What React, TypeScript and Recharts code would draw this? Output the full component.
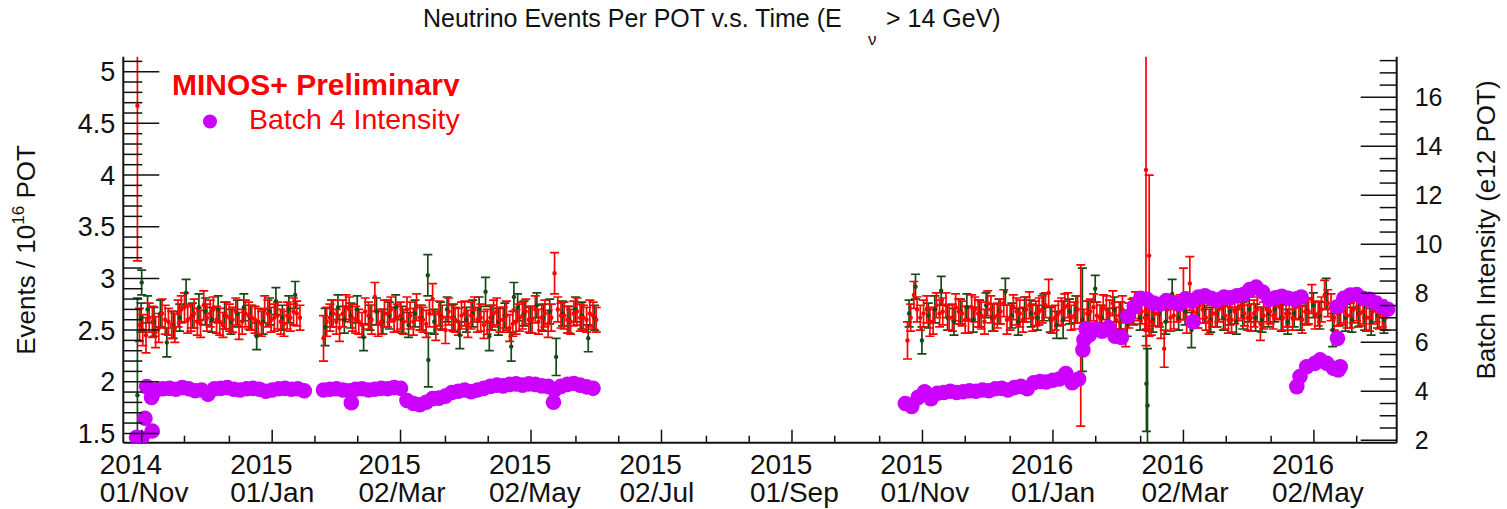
import React from "react"
import { ComposedChart, Scatter, XAxis, YAxis, ErrorBar } from "recharts"

const W = 1507
const H = 509
const FONT = "'Liberation Sans', Arial, Helvetica, sans-serif"
const RED = "#ff0000"
const GREEN = "#174a17"
const VIOLET = "#cc00ff"
const INK = "#111111"

// x axis: days since 2014-11-01
const X_MAJOR = [0, 61, 121, 182, 243, 304, 365, 426, 487, 548]
const X_MINOR = [20, 41, 81, 101, 142, 162, 203, 223, 264, 284, 324, 345, 385, 406, 446, 467, 507, 528, 568]
const X_YEAR = ["2014", "2015", "2015", "2015", "2015", "2015", "2015", "2016", "2016", "2016"]
const X_DATE = ["01/Nov", "01/Jan", "02/Mar", "02/May", "02/Jul", "01/Sep", "01/Nov", "01/Jan", "02/Mar", "02/May"]

const LEFT_MAJOR = [1.5, 2, 2.5, 3, 3.5, 4, 4.5, 5]
const LEFT_MINOR = [1.6, 1.7, 1.8, 1.9, 2.1, 2.2, 2.3, 2.4, 2.6, 2.7, 2.8, 2.9, 3.1, 3.2, 3.3, 3.4, 3.6, 3.7, 3.8, 3.9, 4.1, 4.2, 4.3, 4.4, 4.6, 4.7, 4.8, 4.9, 5.1]
const RIGHT_MAJOR = [2, 4, 6, 8, 10, 12, 14, 16]
const RIGHT_MINOR = [2.5, 3, 3.5, 4.5, 5, 5.5, 6.5, 7, 7.5, 8.5, 9, 9.5, 10.5, 11, 11.5, 12.5, 13, 13.5, 14.5, 15, 15.5, 16.5, 17, 17.5]

// events per POT, sampled every 3 days per period (red runs, two interleaved sets)
const R1_START = -1
const R1_VAL = [2.55, 2.45, 2.58, 2.52, 2.60, 2.55, 2.66, 2.72, 2.62, 2.58, 2.74, 2.66, 2.60, 2.55, 2.62, 2.68, 2.58, 2.64, 2.60, 2.56, 2.66, 2.62, 2.58, 2.64, 2.68, 2.62]
const R1_ERR = [0.16, 0.17, 0.15, 0.14, 0.14, 0.13, 0.13, 0.14, 0.13, 0.13, 0.14, 0.13, 0.13, 0.12, 0.13, 0.13, 0.12, 0.13, 0.13, 0.12, 0.13, 0.13, 0.12, 0.13, 0.13, 0.12]
const R1B_START = 0.5
const R1B_VAL = [2.50, 2.62, 2.48, 2.66, 2.58, 2.52, 2.70, 2.60, 2.66, 2.56, 2.62, 2.70, 2.58, 2.64, 2.60, 2.54, 2.66, 2.62, 2.58, 2.70, 2.60, 2.64, 2.56, 2.62, 2.66]
const R1B_ERR = [0.15, 0.14, 0.15, 0.14, 0.13, 0.14, 0.13, 0.13, 0.14, 0.13, 0.13, 0.12, 0.13, 0.13, 0.12, 0.13, 0.13, 0.12, 0.13, 0.13, 0.12, 0.13, 0.12, 0.13, 0.12]
const R2_START = 85
const R2_VAL = [2.42, 2.62, 2.58, 2.66, 2.70, 2.60, 2.55, 2.64, 2.82, 2.58, 2.66, 2.60, 2.64, 2.70, 2.58, 2.62, 2.56, 2.80, 2.66, 2.50, 2.62, 2.58, 2.66, 2.64, 2.60, 2.55, 2.62, 2.68, 2.60, 2.52, 2.58, 2.64, 2.60, 2.70, 2.62, 2.56, 3.05, 2.64, 2.60, 2.66, 2.62, 2.60, 2.64]
const R2_ERR = [0.22, 0.13, 0.12, 0.13, 0.12, 0.13, 0.12, 0.13, 0.14, 0.12, 0.13, 0.12, 0.13, 0.12, 0.13, 0.12, 0.13, 0.15, 0.12, 0.13, 0.12, 0.13, 0.12, 0.13, 0.12, 0.13, 0.12, 0.13, 0.12, 0.13, 0.12, 0.13, 0.12, 0.13, 0.12, 0.13, 0.20, 0.12, 0.13, 0.12, 0.13, 0.12, 0.13]
const R2B_START = 86.5
const R2B_VAL = [2.58, 2.66, 2.52, 2.72, 2.62, 2.58, 2.68, 2.60, 2.56, 2.66, 2.70, 2.62, 2.58, 2.64, 2.72, 2.60, 2.66, 2.54, 2.62, 2.68, 2.60, 2.64, 2.56, 2.70, 2.62, 2.58, 2.66, 2.60, 2.64, 2.56, 2.62, 2.68, 2.60, 2.58, 2.66, 2.62, 2.70, 2.64, 2.58, 2.68, 2.62, 2.66, 2.60]
const R2B_ERR = [0.14, 0.13, 0.13, 0.12, 0.13, 0.12, 0.13, 0.14, 0.12, 0.13, 0.12, 0.13, 0.12, 0.13, 0.13, 0.12, 0.13, 0.14, 0.12, 0.13, 0.12, 0.13, 0.13, 0.12, 0.13, 0.12, 0.13, 0.12, 0.14, 0.12, 0.13, 0.12, 0.13, 0.12, 0.13, 0.13, 0.12, 0.13, 0.12, 0.13, 0.12, 0.13, 0.12]
const R3_START = 358
const R3_VAL = [2.40, 2.84, 2.62, 2.70, 2.58, 2.66, 2.74, 2.62, 2.68, 2.60, 2.72, 2.66, 2.58, 2.70, 2.64, 2.76, 2.62, 2.68, 2.60, 2.74, 2.66, 2.70, 2.86, 2.62, 2.68, 2.74, 2.64, 2.35, 2.66, 2.72, 2.62, 2.70, 2.76, 2.64, 2.48, 2.68, 2.72, 2.62, 2.58, 2.66, 2.32, 2.62, 2.70, 2.85, 2.95, 2.64, 2.70, 2.58, 2.66, 2.72, 2.60, 2.68, 2.74, 2.62, 2.66, 2.56, 2.70, 2.64, 2.72, 2.66, 2.62, 2.74, 2.68, 2.80, 2.66, 2.84, 2.72, 2.66, 2.70, 2.64, 2.72, 2.68, 2.62, 2.70, 2.66]
const R3_ERR = [0.18, 0.13, 0.12, 0.13, 0.12, 0.13, 0.12, 0.13, 0.12, 0.13, 0.12, 0.13, 0.12, 0.13, 0.12, 0.13, 0.12, 0.13, 0.12, 0.13, 0.12, 0.13, 0.13, 0.12, 0.13, 0.12, 0.13, 0.78, 0.12, 0.13, 0.12, 0.13, 0.12, 0.13, 0.14, 0.12, 0.13, 0.12, 0.13, 0.12, 0.18, 0.13, 0.12, 0.25, 0.26, 0.12, 0.13, 0.12, 0.13, 0.12, 0.13, 0.12, 0.13, 0.12, 0.13, 0.16, 0.12, 0.13, 0.12, 0.13, 0.12, 0.13, 0.12, 0.14, 0.12, 0.14, 0.13, 0.12, 0.13, 0.12, 0.13, 0.12, 0.13, 0.12, 0.13]
const R3B_START = 359.5
const R3B_VAL = [2.62, 2.70, 2.66, 2.58, 2.74, 2.68, 2.62, 2.72, 2.66, 2.60, 2.70, 2.64, 2.76, 2.62, 2.68, 2.60, 2.72, 2.66, 2.70, 2.62, 2.68, 2.74, 2.60, 2.66, 2.72, 2.62, 2.70, 2.56, 2.68, 2.64, 2.72, 2.66, 2.60, 2.70, 2.64, 2.74, 2.68, 2.62, 2.66, 2.56, 2.70, 2.64, 2.72, 2.60, 2.68, 2.74, 2.62, 2.66, 2.70, 2.64, 2.60, 2.72, 2.66, 2.62, 2.70, 2.64, 2.68, 2.74, 2.62, 2.66, 2.72, 2.60, 2.68, 2.64, 2.70, 2.76, 2.62, 2.68, 2.64, 2.70, 2.66, 2.62, 2.68, 2.64, 2.62]
const R3B_ERR = [0.13, 0.12, 0.13, 0.14, 0.12, 0.13, 0.12, 0.13, 0.12, 0.13, 0.12, 0.13, 0.12, 0.13, 0.12, 0.14, 0.12, 0.13, 0.12, 0.13, 0.13, 0.12, 0.13, 0.12, 0.13, 0.12, 0.13, 0.14, 0.12, 0.13, 0.12, 0.13, 0.12, 0.13, 0.12, 0.13, 0.12, 0.13, 0.12, 0.14, 0.12, 0.13, 0.12, 0.13, 0.12, 0.13, 0.12, 0.13, 0.12, 0.13, 0.12, 0.13, 0.12, 0.13, 0.12, 0.13, 0.12, 0.13, 0.12, 0.13, 0.12, 0.13, 0.12, 0.13, 0.12, 0.13, 0.12, 0.13, 0.12, 0.13, 0.12, 0.13, 0.12, 0.13, 0.12]
// [day, value, error]
const RED_EXTRA = [[-2, 4.67, 1.5], [469.5, 4.05, 1.7], [471, 3.22, 0.78]]

// green runs
const G1_START = -0.25
const G1_VAL = [2.62, 2.70, 2.58, 2.66, 2.38, 2.55, 2.62, 2.86, 2.64, 2.72, 2.68, 2.60, 2.70, 2.64, 2.58, 2.66, 2.72, 2.62, 2.44, 2.58, 2.68, 2.78, 2.62, 2.70, 2.84]
const G1_ERR = [0.14, 0.13, 0.14, 0.13, 0.14, 0.13, 0.13, 0.13, 0.12, 0.13, 0.13, 0.12, 0.13, 0.13, 0.12, 0.13, 0.13, 0.12, 0.13, 0.12, 0.13, 0.13, 0.12, 0.13, 0.13]
const G2_START = 85.75
const G2_VAL = [2.53, 2.66, 2.72, 2.60, 2.64, 2.70, 2.43, 2.62, 2.68, 2.58, 2.64, 2.72, 2.60, 2.55, 2.66, 2.62, 3.03, 2.58, 2.64, 2.70, 2.62, 2.45, 2.60, 2.66, 2.70, 2.87, 2.62, 2.58, 2.64, 2.34, 2.72, 2.66, 2.60, 2.74, 2.62, 2.68, 2.24, 2.66, 2.60, 2.70, 2.64, 2.42, 2.62]
const G2_ERR = [0.18, 0.13, 0.12, 0.13, 0.12, 0.13, 0.13, 0.12, 0.13, 0.12, 0.13, 0.12, 0.13, 0.12, 0.13, 0.12, 0.20, 0.12, 0.13, 0.12, 0.13, 0.13, 0.12, 0.13, 0.12, 0.14, 0.12, 0.13, 0.12, 0.14, 0.13, 0.12, 0.13, 0.12, 0.13, 0.12, 0.18, 0.12, 0.13, 0.12, 0.13, 0.13, 0.12]
const G3_START = 358.75
const G3_VAL = [2.66, 2.92, 2.40, 2.64, 2.70, 2.88, 2.62, 2.58, 2.68, 2.72, 2.60, 2.66, 2.74, 2.62, 2.68, 2.87, 2.64, 2.58, 2.70, 2.66, 2.62, 2.72, 2.60, 2.55, 2.60, 2.68, 2.70, 2.60, 2.66, 2.90, 2.62, 2.58, 2.70, 2.64, 2.56, 2.68, 2.62, 2.64, 2.60, 2.66, 2.58, 2.85, 2.62, 2.68, 2.50, 2.64, 2.70, 2.60, 2.66, 2.62, 2.68, 2.58, 2.64, 2.70, 2.62, 2.60, 2.66, 2.70, 2.62, 2.58, 2.66, 2.62, 2.68, 2.74, 2.64, 2.85, 2.50, 2.66, 2.62, 2.60, 2.66, 2.62, 2.58, 2.64, 2.60]
const G3_ERR = [0.13, 0.12, 0.13, 0.12, 0.13, 0.14, 0.12, 0.13, 0.12, 0.13, 0.12, 0.13, 0.12, 0.13, 0.12, 0.13, 0.12, 0.13, 0.12, 0.13, 0.12, 0.13, 0.12, 0.13, 0.18, 0.12, 0.13, 0.50, 0.12, 0.13, 0.12, 0.13, 0.12, 0.13, 0.12, 0.13, 0.12, 0.13, 0.12, 0.13, 0.12, 0.14, 0.12, 0.13, 0.17, 0.12, 0.13, 0.12, 0.13, 0.12, 0.13, 0.12, 0.13, 0.12, 0.13, 0.12, 0.13, 0.12, 0.13, 0.12, 0.13, 0.12, 0.13, 0.12, 0.13, 0.15, 0.16, 0.12, 0.13, 0.12, 0.13, 0.12, 0.13, 0.12, 0.13]
const GREEN_EXTRA = [[-2, 1.87, 0.94], [0, 2.96, 0.12], [134, 2.21, 0.26], [162.5, 2.44, 0.14], [174, 2.82, 0.14], [469.7, 1.98, 0.46], [470.2, 1.77, 0.55]]

// batch 4 intensity (e12 POT), right axis
const M1_START = 7
const M1_VAL = [4.05, 4.1, 4.12, 4.08, 4.15, 4.1, 4.02, 4.05, 3.88, 4.1, 4.12, 4.15, 4.08, 4.05, 4.1, 4.12, 4.08, 4.0, 4.05, 4.1, 4.12, 4.08, 4.1, 4.02]
const M2_START = 85
const M2_VAL = [4.05, 4.08, 4.1, 4.05, 4.02, 4.08, 4.1, 4.05, 4.08, 4.12, 4.1, 4.15, 4.12, 3.62, 3.5, 3.45, 3.55, 3.7, 3.72, 3.8, 3.95, 4.0, 4.05, 3.98, 4.05, 4.12, 4.2, 4.25, 4.22, 4.28, 4.3, 4.25, 4.3, 4.28, 4.22, 4.2, 4.05, 4.2, 4.28, 4.32, 4.25, 4.18, 4.12]
const M3_START = 357
const M3_VAL = [3.5, 3.38, 3.75, 3.98, 3.7, 3.92, 3.95, 4.0, 3.95, 3.98, 4.02, 4.0, 4.05, 4.02, 4.1, 4.12, 4.05, 4.15, 4.2, 4.1, 4.35, 4.4, 4.38, 4.45, 4.5, 4.72, 4.35, 4.5]
const M4_START = 443
const M4_VAL = [6.3, 6.55, 6.45, 6.6, 6.25, 6.2, 7.05, 7.45, 7.8, 7.75, 7.6, 7.55, 7.7, 7.62, 7.55, 7.78, 7.68, 7.85, 7.9, 7.8, 7.72, 7.85, 7.82, 7.9, 7.95, 8.15, 8.25, 8.05, 7.75, 7.82, 7.88, 7.8, 7.75, 7.85]
const M5_START = 559
const M5_VAL = [7.45, 7.8, 7.93, 7.95, 7.8, 7.75, 7.6, 7.45]
// [day, value]
const MAG_EXTRA = [[-2.4, 2.12], [0, 2.08], [1.5, 2.9], [4.9, 2.38], [2.3, 4.19], [4.6, 3.75], [5.5, 3.95], [98, 3.53], [192.5, 3.55], [440, 5.69], [440.5, 6.1], [441.5, 6.55], [491.5, 6.84], [540, 4.19], [541.5, 4.6], [544.6, 5.0], [548.5, 5.14], [550.9, 5.28], [554, 5.14], [557.1, 4.94], [559.4, 4.87], [560.3, 5.0], [559, 6.16], [582.5, 7.35]]

const STEP = 3

const run = (start: number, vals: number[], errs?: number[]) =>
    vals.map((v, i) => ({ x: start + i * STEP, y: v, e: errs ? errs[i] : 0 }))

const redData = [
    ...run(R1_START, R1_VAL, R1_ERR),
    ...run(R1B_START, R1B_VAL, R1B_ERR),
    ...run(R2_START, R2_VAL, R2_ERR),
    ...run(R2B_START, R2B_VAL, R2B_ERR),
    ...run(R3_START, R3_VAL, R3_ERR),
    ...run(R3B_START, R3B_VAL, R3B_ERR),
    ...RED_EXTRA.map(([x, y, e]) => ({ x, y, e })),
]
const greenData = [
    ...GREEN_EXTRA.map(([x, y, e]) => ({ x, y, e })),
    ...run(G1_START, G1_VAL, G1_ERR),
    ...run(G2_START, G2_VAL, G2_ERR),
    ...run(G3_START, G3_VAL, G3_ERR),
]
const magData = [
    ...run(M1_START, M1_VAL),
    ...run(M2_START, M2_VAL),
    ...run(M3_START, M3_VAL),
    ...run(M4_START, M4_VAL),
    ...run(M5_START, M5_VAL),
    ...MAG_EXTRA.map(([x, y]) => ({ x, y, e: 0 })),
]

// error bars that run past the frame get cut at the plot area
const CLIP_CSS = `
.recharts-scatter, .recharts-errorBars, .recharts-errorBar,
.recharts-surface line[stroke="${RED}"], .recharts-surface line[stroke="${GREEN}"] {
    clip-path: url(#plot-area);
}`

const XTick = (props: any) => {
    const { x, y, payload } = props
    const i = X_MAJOR.indexOf(payload.value)
    const major = i >= 0
    return (
        <g>
            <line x1={x} x2={x} y1={y} y2={y - (major ? 13 : 7)} stroke={INK} strokeWidth={1.5} />
            {major && (
                <text fontFamily={FONT} fontSize={28} fill={INK}>
                    <tspan x={x - 42} y={y + 31}>{X_YEAR[i]}</tspan>
                    <tspan x={x - 42} y={y + 59}>{X_DATE[i]}</tspan>
                </text>
            )}
        </g>
    )
}

const LeftTick = (props: any) => {
    const { x, y, payload } = props
    const major = LEFT_MAJOR.includes(payload.value)
    return (
        <g>
            <line x1={x} x2={x + (major ? 36 : 19)} y1={y} y2={y} stroke={INK} strokeWidth={1.5} />
            {major && (
                <text x={x - 8} y={y + 9.5} textAnchor="end" fontFamily={FONT} fontSize={27} fill={INK}>
                    {payload.value}
                </text>
            )}
        </g>
    )
}

const RightTick = (props: any) => {
    const { x, y, payload } = props
    const major = RIGHT_MAJOR.includes(payload.value)
    return (
        <g>
            <line x1={x} x2={x - (major ? 36 : 17)} y1={y} y2={y} stroke={INK} strokeWidth={1.5} />
            {major && (
                <text x={x + 18} y={y + 9} textAnchor="start" fontFamily={FONT} fontSize={25} fill={INK}>
                    {payload.value}
                </text>
            )}
        </g>
    )
}

const dot = (color: string, r: number) => (p: any) =>
    <circle cx={p.cx} cy={p.cy} r={r} fill={color} />

const Overlay = () => (
    <svg width={W} height={H} style={{ position: "absolute", left: 0, top: 0, pointerEvents: "none" }}>
        <defs>
            <clipPath id="plot-area" clipPathUnits="userSpaceOnUse">
                <rect x={123.3} y={56.7} width={1273.4} height={386} />
            </clipPath>
            <clipPath id="legend-clip">
                <rect x={150} y={60} width={340} height={36} />
            </clipPath>
        </defs>

        {/* title, ROOT puts the nu subscript far from the E */}
        <g fontFamily={FONT} fill={INK}>
            <text x={423} y={27} fontSize={25}>Neutrino Events Per POT v.s. Time (E</text>
            <text x={868} y={45} fontSize={17}>ν</text>
            <text x={886} y={27} fontSize={25}>&gt; 14 GeV)</text>
        </g>

        <text transform="translate(35,250) rotate(-90)" textAnchor="middle" fontFamily={FONT} fontSize={26} fill={INK}>
            Events / 10<tspan fontSize={17} dy={-11}>16</tspan><tspan dy={11}> POT</tspan>
        </text>
        <text transform="translate(1495,230) rotate(-90)" textAnchor="middle" fontFamily={FONT} fontSize={26} fill={INK}>
            Batch Intensity (e12 POT)
        </text>

        <g clipPath="url(#legend-clip)">
            <text x={172} y={95} fontFamily={FONT} fontSize={30} fontWeight="bold" fill={RED}>
                MINOS+ Preliminary
            </text>
        </g>
        <circle cx={210} cy={121.5} r={7} fill={VIOLET} />
        <text x={249} y={129} fontFamily={FONT} fontSize={28.5} fill={RED}>Batch 4 Intensity</text>
    </svg>
)

export default function App() {
    const xDomain = [-8.6, 586.7]
    return (
        <div style={{ position: "absolute", left: 0, top: 0, width: W, height: H, background: "#fff" }}>
            <style>{CLIP_CSS}</style>
            <ComposedChart width={W} height={H} margin={{ top: 56.7, right: 0, bottom: 0, left: 0 }}>
                <XAxis
                    xAxisId="bottom"
                    dataKey="x"
                    type="number"
                    domain={xDomain}
                    allowDataOverflow
                    ticks={[...X_MAJOR, ...X_MINOR].sort((a, b) => a - b)}
                    interval={0}
                    height={66.3}
                    tickSize={0}
                    tickMargin={0}
                    tickLine={false}
                    tick={<XTick />}
                    axisLine={{ stroke: INK, strokeWidth: 2 }}
                />
                <XAxis
                    xAxisId="top"
                    orientation="top"
                    dataKey="x"
                    type="number"
                    domain={xDomain}
                    height={0}
                    tick={false}
                    tickLine={false}
                    axisLine={{ stroke: "#333", strokeWidth: 2 }}
                />
                <YAxis
                    yAxisId="left"
                    dataKey="y"
                    type="number"
                    domain={[1.41, 5.145]}
                    allowDataOverflow
                    ticks={[...LEFT_MAJOR, ...LEFT_MINOR].sort((a, b) => a - b)}
                    interval={0}
                    width={123.3}
                    tickSize={0}
                    tickMargin={0}
                    tickLine={false}
                    tick={<LeftTick />}
                    axisLine={{ stroke: INK, strokeWidth: 2 }}
                />
                <YAxis
                    yAxisId="right"
                    dataKey="y"
                    orientation="right"
                    type="number"
                    domain={[1.9, 17.66]}
                    allowDataOverflow
                    ticks={[...RIGHT_MAJOR, ...RIGHT_MINOR].sort((a, b) => a - b)}
                    interval={0}
                    width={110.3}
                    tickSize={0}
                    tickMargin={0}
                    tickLine={false}
                    tick={<RightTick />}
                    axisLine={{ stroke: INK, strokeWidth: 2 }}
                />

                <Scatter
                    data={greenData}
                    dataKey="y"
                    xAxisId="bottom"
                    yAxisId="left"
                    shape={dot(GREEN, 2.2)}
                    isAnimationActive={false}
                >
                    <ErrorBar dataKey="e" direction="y" width={4.5} stroke={GREEN} strokeWidth={1.7} isAnimationActive={false} />
                </Scatter>
                <Scatter
                    data={redData}
                    dataKey="y"
                    xAxisId="bottom"
                    yAxisId="left"
                    shape={dot(RED, 2.2)}
                    isAnimationActive={false}
                >
                    <ErrorBar dataKey="e" direction="y" width={4.5} stroke={RED} strokeWidth={1.7} isAnimationActive={false} />
                </Scatter>
                <Scatter
                    data={magData}
                    dataKey="y"
                    xAxisId="bottom"
                    yAxisId="right"
                    shape={dot(VIOLET, 7.8)}
                    isAnimationActive={false}
                />
            </ComposedChart>
            <Overlay />
        </div>
    )
}
